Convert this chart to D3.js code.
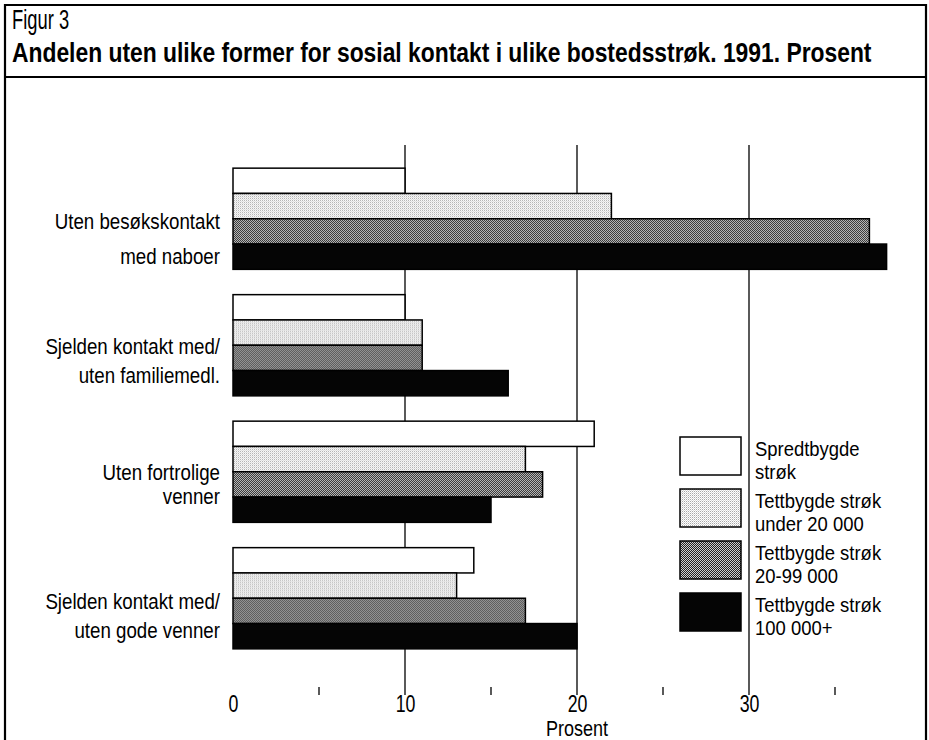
<!DOCTYPE html>
<html><head><meta charset="utf-8">
<script src="https://cdn.jsdelivr.net/npm/d3@7"></script>
<style>body{margin:0;background:#fff} svg{display:block}</style>
</head><body><svg id="c" width="929" height="740"></svg>
<script>
// ---- data ----
const figLabel = "Figur 3";
const title = "Andelen uten ulike former for sosial kontakt i ulike bostedsstrøk. 1991. Prosent";
const categories = ["Uten besøkskontakt med naboer", "Sjelden kontakt med/ uten familiemedl.", "Uten fortrolige venner", "Sjelden kontakt med/ uten gode venner"];
const categoryLines = [["Uten besøkskontakt", "med naboer"], ["Sjelden kontakt med/", "uten familiemedl."], ["Uten fortrolige", "venner"], ["Sjelden kontakt med/", "uten gode venner"]];
const seriesNames = ["Spredtbygde strøk", "Tettbygde strøk under 20 000", "Tettbygde strøk 20-99 000", "Tettbygde strøk 100 000+"];
const legendLines = [["Spredtbygde", "strøk"], ["Tettbygde strøk", "under 20 000"], ["Tettbygde strøk", "20-99 000"], ["Tettbygde strøk", "100 000+"]];
const spredtbygde = [10, 10, 21, 14];
const tettUnder20 = [22, 11, 17, 13];
const tett20to99 = [37, 11, 18, 17];
const tett100 = [38, 16, 15, 20];
const majorTicks = [0, 10, 20, 30];
const gridTicks = [10, 20, 30];
const minorTicks = [5, 15, 25, 35];
const xTitle = "Prosent";

// ---- layout / style ----
const W = 929, H = 740;
const FR = "'Liberation Sans',Arial,Helvetica,sans-serif";
const labelLayout = [{dy: 10, lead: 35}, {dy: 9, lead: 29}, {dy: 8, lead: 24}, {dy: 11, lead: 29}];
const seriesValues = [spredtbygde, tettUnder20, tett20to99, tett100];
const fills = ["#ffffff", "url(#pLight)", "url(#pMed)", "#050505"];

const svg = d3.select("#c");
const defs = svg.append("defs");
function pat(id, bg, dots) {
  const p = defs.append("pattern").attr("id", id).attr("width", 2).attr("height", 2).attr("patternUnits", "userSpaceOnUse");
  p.append("rect").attr("width", 2).attr("height", 2).attr("fill", bg);
  dots.forEach(d => p.append("rect").attr("x", d[0]).attr("y", d[1]).attr("width", 1).attr("height", 1).attr("fill", d[2]));
}
pat("pLight", "#ffffff", [[0, 0, "#a8a8a8"], [1, 1, "#d8d8d8"]]);
pat("pMed", "#cfcfcf", [[0, 0, "#222"], [1, 1, "#222"]]);

svg.append("rect").attr("width", W).attr("height", H).attr("fill", "#fff");

// condensed text helper: text drawn at origin, squeezed horizontally
function ctext(parent, tx, ty, sx, str, opts) {
  const g = parent.append("g").attr("transform", `translate(${tx},${ty}) scale(${sx},1)`);
  const t = g.append("text").attr("x", 0).attr("y", 0)
    .attr("font-family", FR).attr("font-size", opts.size)
    .attr("font-weight", opts.weight || "normal")
    .attr("text-anchor", opts.anchor || "start").attr("fill", "#000").text(str);
  return t;
}

// frame
const frame = svg.append("g").attr("stroke", "#000").attr("stroke-width", 2.2).attr("fill", "none");
frame.append("line").attr("x1", 5).attr("x2", 5).attr("y1", 4).attr("y2", H);
frame.append("line").attr("x1", 926).attr("x2", 926).attr("y1", 4).attr("y2", H);
frame.append("line").attr("x1", 4).attr("x2", 927).attr("y1", 5).attr("y2", 5);
frame.append("line").attr("x1", 4).attr("x2", 927).attr("y1", 77).attr("y2", 77);

// titles
ctext(svg, 12, 29, 0.68, figLabel, {size: 27});
const tt = ctext(svg, 12, 62, 1, title, {size: 27, weight: "bold"});
const tw = tt.node().getComputedTextLength();
d3.select(tt.node().parentNode).attr("transform", `translate(12,62) scale(${860 / tw},1)`);

// scales
const x = d3.scaleLinear().domain([0, 40]).range([233, 921]);
const y = d3.scaleBand().domain(categories).range([155.5, 661.5]).paddingInner(0.2).paddingOuter(0.1);
const ys = d3.scaleBand().domain(d3.range(seriesNames.length)).range([0, y.bandwidth()]);

// gridlines + minor ticks
svg.append("g").selectAll("line").data(gridTicks).join("line")
  .attr("x1", d => x(d)).attr("x2", d => x(d)).attr("y1", 145).attr("y2", 695)
  .attr("stroke", "#000").attr("stroke-width", 1.3);
svg.append("g").selectAll("line").data(minorTicks).join("line")
  .attr("x1", d => x(d)).attr("x2", d => x(d)).attr("y1", 687).attr("y2", 695)
  .attr("stroke", "#000").attr("stroke-width", 1.3);

// bars
const groups = svg.append("g").selectAll("g").data(categories).join("g")
  .attr("transform", c => `translate(0,${y(c)})`);
groups.selectAll("rect").data((c, i) => seriesValues.map((s, j) => ({j, v: s[i]}))).join("rect")
  .attr("x", x(0)).attr("y", d => ys(d.j)).attr("width", d => x(d.v) - x(0)).attr("height", ys.bandwidth())
  .attr("fill", d => fills[d.j]).attr("stroke", "#000").attr("stroke-width", 1.5);

// category labels
categories.forEach((c, i) => {
  const cy = y(c) + y.bandwidth() / 2;
  categoryLines[i].forEach((l, k) =>
    ctext(svg, 220, cy + labelLayout[i].dy + k * labelLayout[i].lead, 0.87, l, {size: 21.5, anchor: "end"}));
});

// x axis labels (axis generator for positions, text condensed)
const ax = svg.append("g").attr("transform", "translate(0,712)")
  .call(d3.axisBottom(x).tickValues(majorTicks).tickSize(0).tickPadding(0).tickFormat(d3.format("d")));
ax.select(".domain").remove();
ax.selectAll("text").attr("font-family", FR).attr("font-size", 24).attr("fill", "#000")
  .attr("dy", 0).attr("y", 0).attr("transform", "scale(0.74,1)");
ctext(svg, x(20), 736, 0.82, xTitle, {size: 22, anchor: "middle"});

// legend
const lg = svg.append("g").selectAll("g").data(seriesNames).join("g")
  .attr("transform", (d, i) => `translate(680,${437 + i * 52})`);
lg.append("rect").attr("width", 61).attr("height", 38).attr("fill", (d, i) => fills[i]).attr("stroke", "#000").attr("stroke-width", 1.5);
lg.each(function(d, i) {
  legendLines[i].forEach((l, k) => ctext(d3.select(this), 75, 19 + k * 23, 0.9, l, {size: 20.5}));
});
</script></body></html>
